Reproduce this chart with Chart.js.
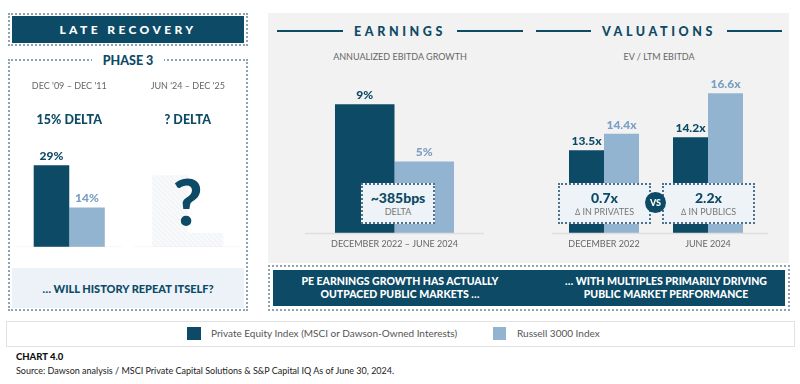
<!DOCTYPE html>
<html>
<head>
<meta charset="utf-8">
<script src="https://cdn.jsdelivr.net/npm/chart.js@4.4.1/dist/chart.umd.min.js"></script>
<style>
    body { margin: 0; width: 800px; height: 384px; background: #fff; position: relative; overflow: hidden; font-family: Lato, 'Open Sans', sans-serif; }
    .abs { position: absolute; }
    .dots { border: 2px dotted #8fa4b2; box-sizing: border-box; }
    .dark { background: #0c4a66; color: #fff; }
    .center { display: flex; align-items: center; justify-content: center; text-align: center; }
    .title { font-weight: 900; letter-spacing: 3.6px; color: #0c4a66; font-size: 12.5px; }
    .line { position: absolute; height: 2px; background: #0c4a66; }
    .sub { font-size: 9px; color: #666; text-align: center; }
    .deltaBox { background: #eef3f8; border: 2px dotted #4f7189; box-sizing: border-box; flex-direction: column; }
    .deltaBox b { font-size: 14px; color: #0c4a66; font-weight: 900; line-height: 16px; }
    .deltaBox span { font-size: 9px; color: #777; line-height: 12px; }
    .msg { font-size: 10.5px; font-weight: 900; line-height: 13px; }
</style>
</head>
<body>

<!-- late recovery -->
<div class="abs dots" style="left:8px;top:13px;width:240px;height:33px;"></div>
<div class="abs dark center" style="left:12px;top:16px;width:232px;height:27px;font-size:12px;font-weight:900;letter-spacing:3.4px;">LATE RECOVERY</div>

<div class="abs dots" style="left:8px;top:59px;width:240px;height:252px;"></div>
<div class="abs center" style="left:92px;top:52px;width:72px;height:16px;background:#fff;color:#0c4a66;font-weight:900;font-size:12.5px;">PHASE 3</div>
<div class="abs center msg" style="left:12px;top:268px;width:232px;height:40px;background:#edf2f8;color:#0c4a66;font-size:11px;">… WILL HISTORY REPEAT ITSELF?</div>
<canvas id="phaseChart" class="abs" style="left:10px;top:70px;" width="237" height="177"></canvas>

<!-- earnings / valuations panel -->
<div class="abs" style="left:268px;top:13px;width:521px;height:250px;background:#f2f2f2;"></div>
<div class="line" style="left:277px;top:30px;width:66px;"></div>
<div class="line" style="left:457px;top:30px;width:66px;"></div>
<div class="abs center title" style="left:343px;top:22px;width:114px;height:18px;">EARNINGS</div>
<div class="line" style="left:536px;top:30px;width:55px;"></div>
<div class="line" style="left:727px;top:30px;width:55px;"></div>
<div class="abs center title" style="left:591px;top:22px;width:136px;height:18px;">VALUATIONS</div>
<div class="abs sub" style="left:300px;top:51px;width:200px;">ANNUALIZED EBITDA GROWTH</div>
<div class="abs sub" style="left:559px;top:51px;width:200px;">EV / LTM EBITDA</div>

<canvas id="earningsChart" class="abs" style="left:305px;top:60px;" width="179" height="200"></canvas>
<canvas id="valuationChart" class="abs" style="left:552px;top:70px;" width="220" height="190"></canvas>

<div class="abs center deltaBox" style="left:361px;top:183px;width:74px;height:41px;"><b>~385bps</b><span>DELTA</span></div>
<div class="abs center deltaBox" style="left:558px;top:183px;width:93px;height:41px;"><b>0.7x</b><span>∆ IN PRIVATES</span></div>
<div class="abs center deltaBox" style="left:662px;top:183px;width:93px;height:41px;"><b>2.2x</b><span>∆ IN PUBLICS</span></div>
<div class="abs center" style="left:645px;top:192px;width:21px;height:21px;border-radius:50%;background:#0c4a66;color:#fff;font-size:9px;font-weight:900;">VS</div>

<div class="abs dots" style="left:268px;top:265px;width:522px;height:46px;"></div>
<div class="abs dark center msg" style="left:273px;top:270px;width:512px;height:36px;"></div>
<div class="abs center msg" style="left:280px;top:270px;width:240px;height:36px;color:#fff;">PE EARNINGS GROWTH HAS ACTUALLY<br>OUTPACED PUBLIC MARKETS …</div>
<div class="abs center msg" style="left:546px;top:270px;width:240px;height:36px;color:#fff;">… WITH MULTIPLES PRIMARILY DRIVING<br>PUBLIC MARKET PERFORMANCE</div>

<!-- legend -->
<div class="abs" style="left:6px;top:321px;width:789px;height:26px;border:1px solid #e2e2e2;box-sizing:border-box;"></div>
<div class="abs" style="left:187px;top:327px;width:14px;height:13px;background:#0c4a66;"></div>
<div class="abs" style="left:211px;top:327px;font-size:10px;color:#555;line-height:13px;">Private Equity Index (MSCI or Dawson-Owned Interests)</div>
<div class="abs" style="left:493px;top:327px;width:13px;height:13px;background:#93b4d0;"></div>
<div class="abs" style="left:517px;top:327px;font-size:10px;color:#555;line-height:13px;">Russell 3000 Index</div>

<div class="abs" style="left:16px;top:351px;font-size:9.5px;font-weight:900;color:#111;">CHART 4.0</div>
<div class="abs" style="left:16px;top:365px;font-size:9px;color:#222;">Source: Dawson analysis / MSCI Private Capital Solutions &amp; S&amp;P Capital IQ As of June 30, 2024.</div>

<script>
const DARK = '#0c4a66';
const LIGHT = '#93b4d0';
const LIGHT_TEXT = '#7a9fc2';

// phase 3 (the second group is the hatched "?" placeholder)
const phaseCategories = ["DEC '09 – DEC '11", "JUN '24 – DEC '25"];
const phaseDeltas = ['15% DELTA', '? DELTA'];
const phasePE = [29, 25.5];
const phaseRussell = [14, 5];
const phaseLabels = [['29%', null], ['14%', null]];

// earnings
const earningsCategories = ['DECEMBER 2022 – JUNE 2024'];
const earningsPE = [9];
const earningsRussell = [5];
const earningsLabels = [['9%'], ['5%']];

// valuations
const valuationCategories = ['DECEMBER 2022', 'JUNE 2024'];
const valuationPE = [13.5, 14.2];
const valuationRussell = [14.4, 16.6];
const valuationLabels = [['13.5x', '14.2x'], ['14.4x', '16.6x']];

function hatchPattern() {
    const c = document.createElement('canvas');
    c.width = 5; c.height = 5;
    const g = c.getContext('2d');
    g.fillStyle = '#f8f9fb';
    g.fillRect(0, 0, 5, 5);
    g.strokeStyle = '#eef1f4';
    g.lineWidth = 1;
    g.beginPath();
    g.moveTo(0, 0); g.lineTo(5, 5);
    g.moveTo(-3, 2); g.lineTo(3, 8);
    g.moveTo(2, -3); g.lineTo(8, 3);
    g.stroke();
    return g.createPattern(c, 'repeat');
}

const decorPlugin = {
    id: 'decor',
    afterDatasetsDraw(chart, args, opts) {
        const ctx = chart.ctx;
        const x = chart.scales.x;
        const bottom = chart.scales.y.getPixelForValue(chart.scales.y.min);
        ctx.save();

        // baselines
        ctx.strokeStyle = opts.baseColor;
        ctx.lineWidth = 1.5;
        ctx.beginPath();
        if (opts.splitBase) {
            chart.data.labels.forEach((l, i) => {
                const cx = x.getPixelForValue(i);
                ctx.moveTo(cx - 54, bottom + 0.5);
                ctx.lineTo(cx + 53, bottom + 0.5);
            });
        } else {
            ctx.moveTo(chart.chartArea.left, bottom + 0.5);
            ctx.lineTo(chart.chartArea.right + (opts.extend || 0), bottom + 0.5);
        }
        ctx.stroke();

        // value labels
        ctx.textAlign = 'center';
        ctx.textBaseline = 'bottom';
        ctx.font = '900 12px Lato';
        chart.data.datasets.forEach((ds, d) => {
            chart.getDatasetMeta(d).data.forEach((bar, i) => {
                const txt = opts.labels[d][i];
                if (!txt) return;
                ctx.fillStyle = d === 0 ? DARK : LIGHT_TEXT;
                ctx.fillText(txt, bar.x, bar.y - 3);
            });
        });

        // category names
        if (opts.bottomNames) {
            ctx.font = '9px Lato';
            ctx.fillStyle = '#666';
            ctx.textBaseline = 'middle';
            chart.data.labels.forEach((l, i) => {
                ctx.fillText(l, x.getPixelForValue(i), bottom + 11);
            });
        }
        if (opts.topNames) {
            chart.data.labels.forEach((l, i) => {
                const cx = x.getPixelForValue(i);
                ctx.textBaseline = 'middle';
                ctx.font = '9px Lato';
                ctx.fillStyle = '#666';
                ctx.fillText(l, cx, 16);
                ctx.font = '900 12.5px Lato';
                ctx.fillStyle = DARK;
                ctx.fillText(opts.topNames[i], cx, 50);
            });
            // big question mark on the placeholder
            ctx.font = '900 64px Lato';
            ctx.textBaseline = 'alphabetic';
            ctx.fillStyle = DARK;
            ctx.fillText('?', x.getPixelForValue(1), 156);
        }
        ctx.restore();
    }
};

function drawBars(id, labels, pe, russell, colorsPE, colorsRussell, min, max, catPct, decor) {
    const canvas = document.getElementById(id);
    return new Chart(canvas, {
        type: 'bar',
        data: {
            labels: labels,
            datasets: [{
                data: pe,
                backgroundColor: colorsPE,
                barPercentage: 1,
                categoryPercentage: catPct
            }, {
                data: russell,
                backgroundColor: colorsRussell,
                barPercentage: 1,
                categoryPercentage: catPct
            }]
        },
        options: {
            responsive: false,
            animation: false,
            layout: { padding: { left: 0, right: decor.rightPad || 0, top: 0, bottom: decor.bottomPad || 0 } },
            plugins: { legend: { display: false }, tooltip: { enabled: false }, decor: decor },
            scales: {
                x: { display: false },
                y: { display: false, min: min, max: max }
            }
        },
        plugins: [decorPlugin]
    });
}

const hatch = hatchPattern();

drawBars('phaseChart', phaseCategories, phasePE, phaseRussell,
    [DARK, hatch], [LIGHT, hatch], 0, 62.8, 0.6,
    { labels: phaseLabels, splitBase: true, baseColor: '#e4e4e4', topNames: phaseDeltas });

drawBars('earningsChart', earningsCategories, earningsPE, earningsRussell,
    DARK, LIGHT, 0, 12.1, 0.665,
    { labels: earningsLabels, baseColor: '#dedede', bottomNames: true, bottomPad: 27 });

drawBars('valuationChart', valuationCategories, valuationPE, valuationRussell,
    DARK, LIGHT, 9, 17.86, 0.673,
    { labels: valuationLabels, baseColor: '#dedede', bottomNames: true, bottomPad: 27, rightPad: 12, extend: 8 });
</script>
</body>
</html>
